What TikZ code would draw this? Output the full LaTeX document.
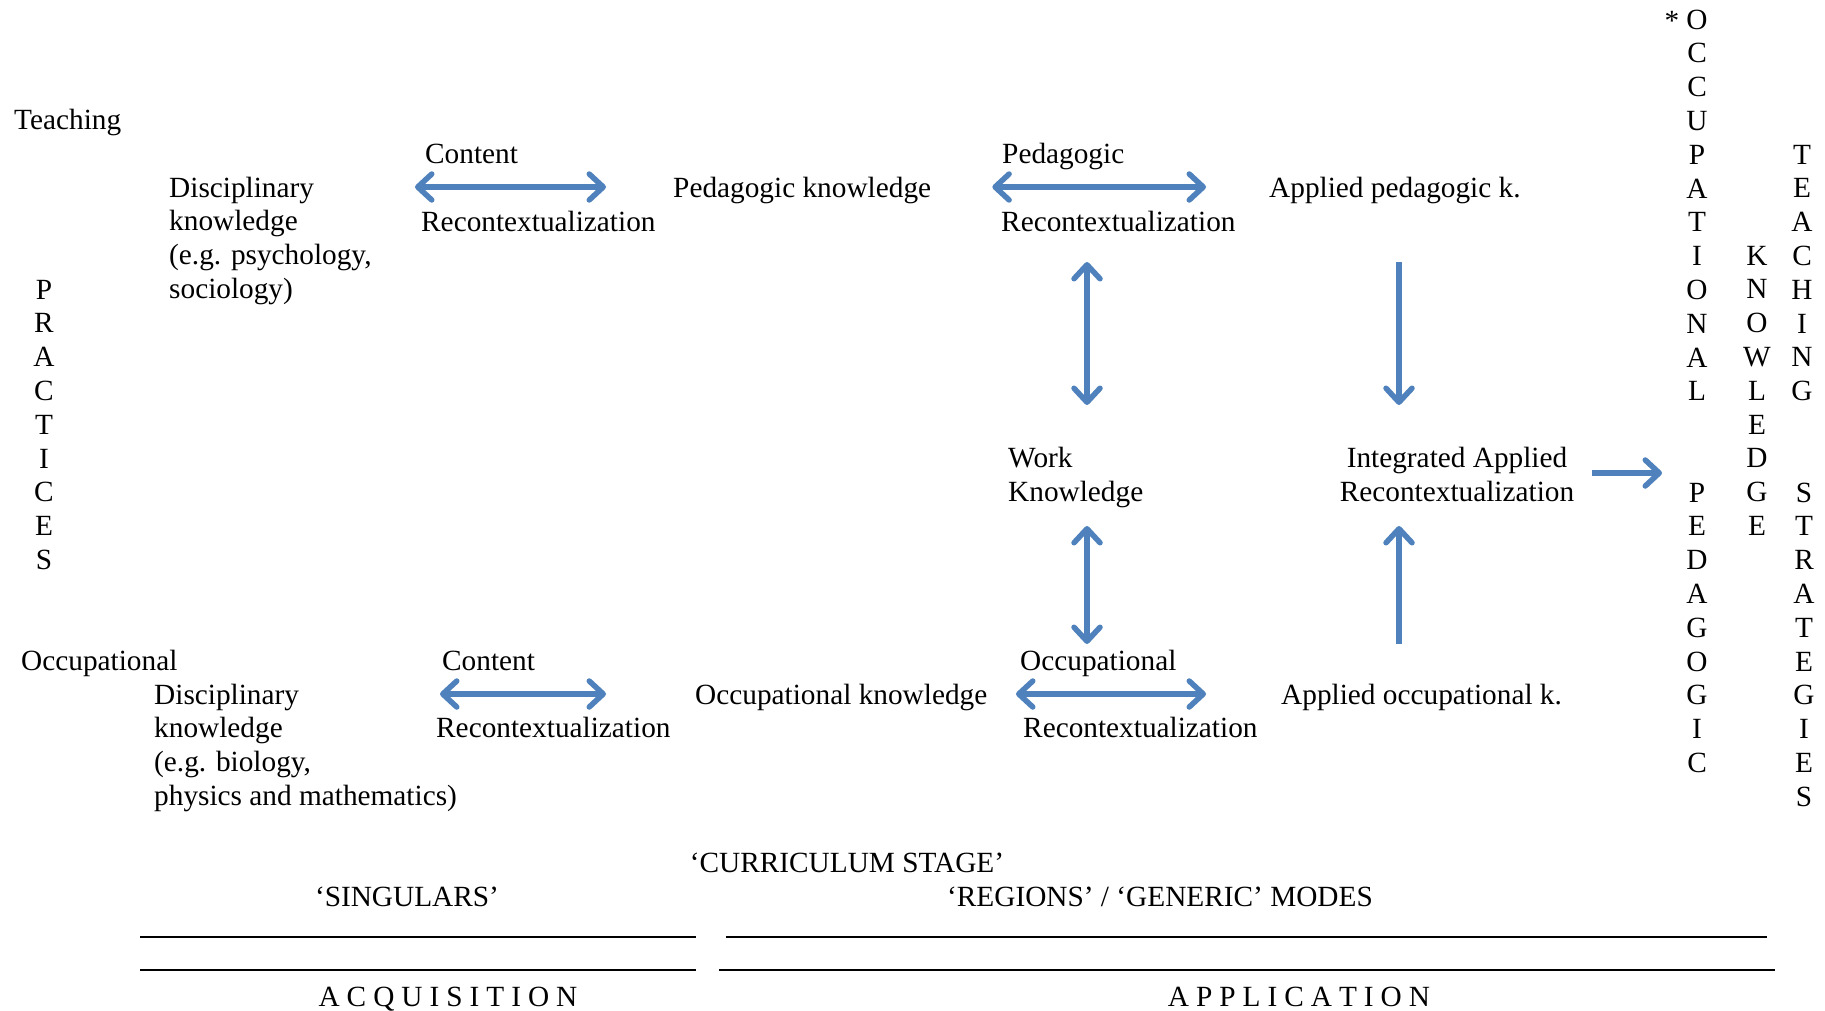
\documentclass[tikz,border=0pt]{standalone}
\usepackage{fontspec}
\setmainfont{Liberation Serif}
\usetikzlibrary{arrows.meta}
\definecolor{arrblue}{RGB}{79,129,189}
\newcommand\lsp{\hspace{7pt}}
\begin{document}
\begin{tikzpicture}[x=1pt,y=-1pt,
  txt/.style={inner sep=0pt,anchor=base west,font=\fontsize{29.3}{33.8}\selectfont},
  ml/.style={txt,align=left},
  col/.style={inner sep=0pt,anchor=base,align=center,font=\fontsize{29.3}{33.8}\selectfont},
  ctr/.style={inner sep=0pt,anchor=base,font=\fontsize{29.3}{33.8}\selectfont},
  biarr/.style={draw=arrblue,line width=5.5pt,{Straight Barb[length=14pt,width=26pt,round]}-{Straight Barb[length=14pt,width=26pt,round]}},
  onearr/.style={draw=arrblue,line width=5.5pt,-{Straight Barb[length=14pt,width=26pt,round]}},
  ruleline/.style={line width=2pt}
]
\useasboundingbox (0,0) rectangle (1825,1011);

% (multi-line nodes: base anchor = baseline of last line)
% upper row
\node[txt] (teach) at (14,130) {Teaching};
\node[ml] (dkT) at (169,298.4) {Disciplinary\\knowledge\\(e.g. psychology,\\sociology)};
\node[txt] (cont1) at (425,164) {Content};
\node[txt] (rc1) at (421,231) {Recontextualization};
\node[txt] (pk) at (673,197) {Pedagogic knowledge};
\node[txt] (ped1) at (1002,164) {Pedagogic};
\node[txt] (rc2) at (1001,231) {Recontextualization};
\node[txt] (apk) at (1269,197) {Applied pedagogic k.};

% middle row
\node[ml] (wk) at (1008,501) {Work\\Knowledge};
\node[col] (iar) at (1457,501) {Integrated Applied\\Recontextualization};

% lower row
\node[txt] (occ) at (21,670) {Occupational};
\node[ml] (dkO) at (154,805.4) {Disciplinary\\knowledge\\(e.g. biology,\\physics and mathematics)};
\node[txt] (cont2) at (442,670) {Content};
\node[txt] (rc3) at (436,737) {Recontextualization};
\node[txt] (ok) at (695,704) {Occupational knowledge};
\node[txt] (occ2) at (1020,670) {Occupational};
\node[txt] (rc4) at (1023,737) {Recontextualization};
\node[txt] (aok) at (1281,704) {Applied occupational k.};

% vertical words
\node[col] (practices) at (44,569.4) {P\\R\\A\\C\\T\\I\\C\\E\\S};
\node[col] (occcol) at (1697,400.8) {O\\C\\C\\U\\P\\A\\T\\I\\O\\N\\A\\L};
\node[ctr] (star) at (1672,31) {*};
\node[col] (pedcol) at (1697,772.4) {P\\E\\D\\A\\G\\O\\G\\I\\C};
\node[col] (knowcol) at (1757,535.4) {K\\N\\O\\W\\L\\E\\D\\G\\E};
\node[col] (teachcol) at (1802,400.6) {T\\E\\A\\C\\H\\I\\N\\G};
\node[col] (stratcol) at (1804,806.2) {S\\T\\R\\A\\T\\E\\G\\I\\E\\S};

% bottom labels
\node[ctr] (cs) at (847,872) {‘CURRICULUM STAGE’};
\node[ctr] (sing) at (407,906) {‘SINGULARS’};
\node[ctr] (reg) at (1160,906) {‘REGIONS’ / ‘GENERIC’ MODES};
\node[ctr] (acq) at (448,1006) {A\lsp C\lsp Q\lsp U\lsp I\lsp S\lsp I\lsp T\lsp I\lsp O\lsp N};
\node[ctr] (app) at (1299,1006) {A\lsp P\lsp P\lsp L\lsp I\lsp C\lsp A\lsp T\lsp I\lsp O\lsp N};

\draw[ruleline] (140,937) -- (696,937);
\draw[ruleline] (726,937) -- (1767,937);
\draw[ruleline] (140,970) -- (696,970);
\draw[ruleline] (719,970) -- (1775,970);

% arrows upper row
\draw[biarr] ([xshift=246pt,yshift=111.4pt]dkT.base west) -- ([xshift=-67pt,yshift=10pt]pk.base west);
\draw[biarr] ([xshift=61pt,yshift=10pt]pk.base east) -- ([xshift=-63pt,yshift=10pt]apk.base west);
% verticals
\draw[biarr] ([xshift=86pt,yshift=-31pt]rc2.base west) -- ([xshift=79pt,yshift=96pt]wk.base west);
\draw[biarr] ([xshift=79pt,yshift=-25pt]wk.base west) -- ([xshift=67pt,yshift=26pt]occ2.base west);
\draw[onearr] ([xshift=130pt,yshift=-65pt]apk.base west) -- ([xshift=-58pt,yshift=96pt]iar.base);
\draw[onearr] ([xshift=118pt,yshift=60pt]aok.base west) -- ([xshift=-58pt,yshift=-25pt]iar.base);
\draw[onearr] ([xshift=135pt,yshift=28pt]iar.base) -- ([xshift=-35pt,yshift=299.4pt]pedcol.base);
% arrows lower row
\draw[biarr] ([xshift=286pt,yshift=111.4pt]dkO.base west) -- ([xshift=-89pt,yshift=10pt]ok.base west);
\draw[biarr] ([xshift=321pt,yshift=10pt]ok.base west) -- ([xshift=-75pt,yshift=10pt]aok.base west);
\end{tikzpicture}
\end{document}
